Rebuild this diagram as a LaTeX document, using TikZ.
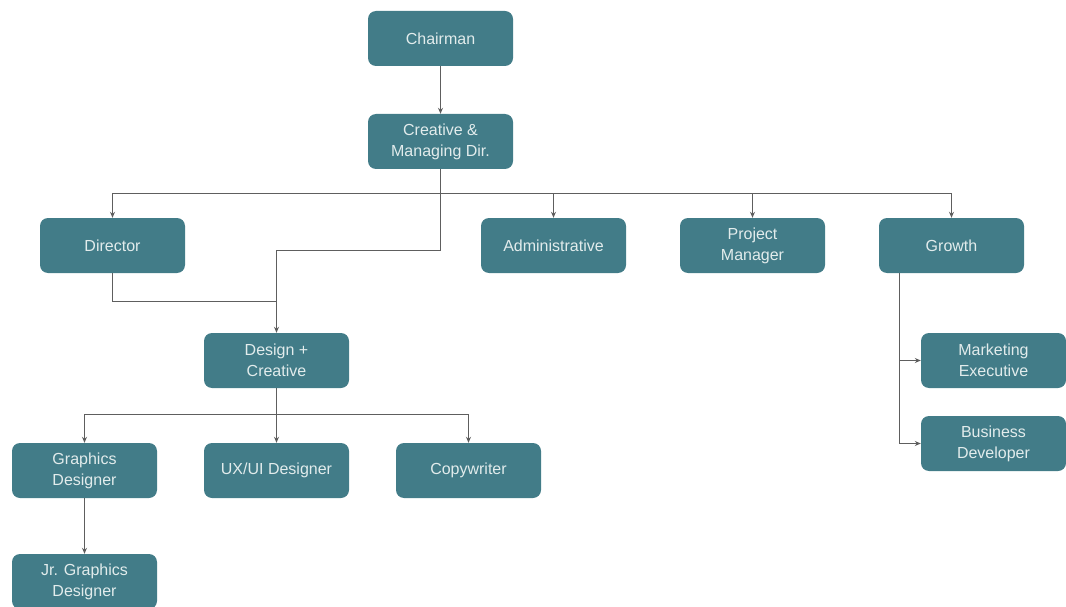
\documentclass[tikz,border=0pt]{standalone}
\usepackage{fontspec}
\setmainfont{Liberation Sans}
\usetikzlibrary{arrows.meta,calc}
\definecolor{boxteal}{HTML}{427C88}
\definecolor{boxtext}{HTML}{E2ECEC}
\definecolor{linegray}{HTML}{5E5E5E}
\tikzset{
  orgbox/.style={rectangle, rounded corners=8pt, fill=boxteal, text=boxtext,
    minimum width=145pt, minimum height=55pt, inner sep=0pt, align=center,
    font=\fontsize{16}{21}\selectfont},
  conn/.style={draw=linegray, line width=1pt},
  arr/.style={conn, -{Stealth[length=6pt,width=5pt]}}
}
\begin{document}
\begin{tikzpicture}[x=1pt,y=-1pt]
\useasboundingbox (0,0) rectangle (1066,607);
\node[orgbox] (chair) at (440.5,38.5) {Chairman};
\node[orgbox] (cmd) at (440.5,141.5) {Creative \&\\Managing Dir.};
\node[orgbox] (dir) at (112.5,245.5) {Director};
\node[orgbox] (adm) at (553.5,245.5) {Administrative};
\node[orgbox] (pm) at (752.5,245.5) {Project\\Manager};
\node[orgbox] (gro) at (951.5,245.5) {Growth};
\node[orgbox] (des) at (276.5,360.5) {Design +\\Creative};
\node[orgbox] (mkt) at (993.5,360.5) {Marketing\\Executive};
\node[orgbox] (bd) at (993.5,443.5) {Business\\Developer};
\node[orgbox] (gd) at (84.5,470.5) {Graphics\\Designer};
\node[orgbox] (ux) at (276.5,470.5) {UX/UI Designer};
\node[orgbox] (cw) at (468.5,470.5) {Copywriter};
\node[orgbox] (jr) at (84.5,581.5) {Jr. Graphics\\Designer};

\draw[arr] (chair) -- (cmd);
\coordinate (b1) at (440.5,193);
\coordinate (j1) at (440.5,250);
\coordinate (j2) at (276.5,301);
\draw[conn] (cmd.south) -- (b1) -- (j1);
\draw[arr] (b1) -| (dir.north);
\draw[arr] (b1) -| (adm.north);
\draw[arr] (b1) -| (pm.north);
\draw[arr] (b1) -| (gro.north);
\draw[arr] (j1) -| (des.north);
\draw[conn] (dir.south) |- (j2);

\coordinate (b2) at (276.5,414);
\draw[conn] (des.south) -- (b2);
\draw[arr] (b2) -| (gd.north);
\draw[arr] (b2) -- (ux.north);
\draw[arr] (b2) -| (cw.north);
\draw[arr] (gd) -- (jr);

\coordinate (gs) at ($(gro.south)+(-52,0)$);
\draw[arr] (gs) |- (mkt.west);
\draw[arr] (gs) |- (bd.west);
\end{tikzpicture}
\end{document}
